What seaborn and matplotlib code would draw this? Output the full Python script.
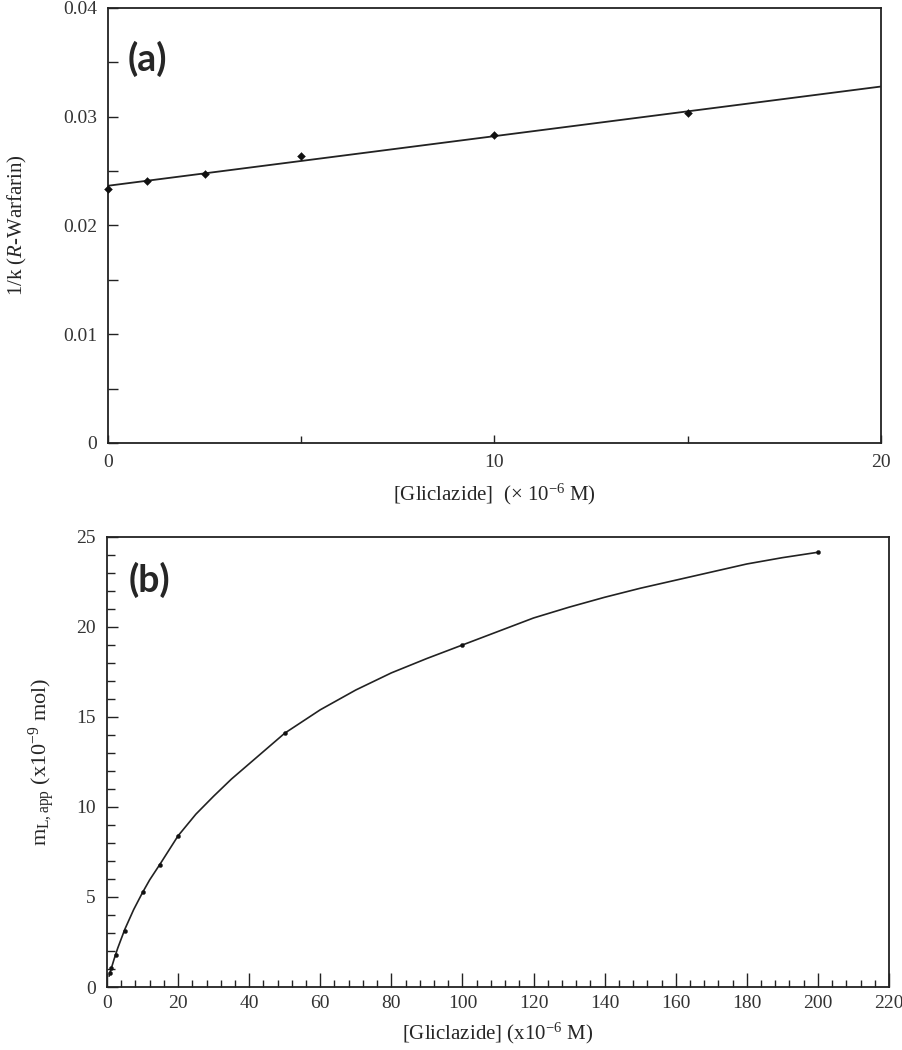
import matplotlib
matplotlib.use("Agg")
import matplotlib.pyplot as plt
import seaborn as sns
import numpy as np
import pandas as pd
from matplotlib.ticker import MultipleLocator, FuncFormatter

# ---- Data (a) ----
conc_a = [0, 1, 2.5, 5, 10, 15]
invk_a = [0.0234, 0.0241, 0.0247, 0.0264, 0.0283, 0.0303]

# ---- Data (b) ----
conc_b = [0.8, 1.2, 2.5, 5, 10, 15, 20, 50, 100, 200]
mlapp_b = [0.75, 1.05, 1.8, 3.1, 5.25, 6.8, 8.4, 14.1, 19.0, 24.15]

curve_x = [0.6, 1, 2, 3, 5, 7.5, 10, 12, 15, 20, 25, 30, 35, 40, 45, 50, 60, 70,
           80, 90, 100, 110, 120, 130, 140, 150, 160, 170, 180, 190, 200]
curve_y = [0.6, 0.9, 1.55, 2.15, 3.2, 4.3, 5.25, 5.95, 6.85, 8.4, 9.6, 10.6, 11.55,
           12.4, 13.25, 14.1, 15.4, 16.5, 17.45, 18.25, 19.0, 19.75, 20.5, 21.1,
           21.65, 22.15, 22.6, 23.05, 23.5, 23.85, 24.15]

sns.set_style("ticks")
plt.rcParams["font.family"] = ["Liberation Serif", "DejaVu Serif"]
plt.rcParams["mathtext.fontset"] = "custom"
plt.rcParams["mathtext.rm"] = "Liberation Serif"
plt.rcParams["mathtext.it"] = "Liberation Serif:italic"

fig = plt.figure(figsize=(9.03, 10.5), dpi=100)
ax1 = fig.add_axes([0.1196, 0.5781, 0.8560, 0.4143])
ax2 = fig.add_axes([0.1185, 0.0600, 0.8660, 0.4286])

df_a = pd.DataFrame({"x": conc_a, "y": invk_a})
ax1.set_xlim(0, 20)
ax1.set_ylim(0, 0.04)
sns.regplot(data=df_a, x="x", y="y", ax=ax1, scatter=False, ci=None,
            truncate=False, line_kws=dict(color="#222222", lw=1.3))
sns.scatterplot(data=df_a, x="x", y="y", ax=ax1, marker="D", s=16,
                color="#111111", edgecolor="#111111", zorder=5, clip_on=False)
ax1.set_xlim(0, 20)
ax1.set_ylim(0, 0.04)
ax1.xaxis.set_major_locator(MultipleLocator(10))
ax1.xaxis.set_minor_locator(MultipleLocator(5))
ax1.yaxis.set_major_locator(MultipleLocator(0.01))
ax1.yaxis.set_minor_locator(MultipleLocator(0.005))
ax1.yaxis.set_major_formatter(FuncFormatter(
    lambda v, p: "0" if abs(v) < 1e-12 else f"{v:.2f}"))
ax1.set_xlabel(r"[Gliclazide]  (× 10$^{-6}$ M)", fontsize=15, labelpad=8)
ax1.set_ylabel(r"1/k ($\mathit{R}$-Warfarin)", fontsize=15, labelpad=24)
ax1.text(0.025, 0.883, "(a)", transform=ax1.transAxes, fontsize=27,
         fontweight="bold", family=["Lato", "DejaVu Sans"], va="center", ha="left")

df_c = pd.DataFrame({"x": curve_x, "y": curve_y})
df_b = pd.DataFrame({"x": conc_b, "y": mlapp_b})
sns.lineplot(data=df_c, x="x", y="y", ax=ax2, color="#222222", lw=1.2)
sns.scatterplot(data=df_b, x="x", y="y", ax=ax2, marker="o", s=9,
                color="#111111", edgecolor="#111111", zorder=5)
ax2.set_xlim(0, 220)
ax2.set_ylim(0, 25)
ax2.xaxis.set_major_locator(MultipleLocator(20))
ax2.xaxis.set_minor_locator(MultipleLocator(4))
ax2.yaxis.set_major_locator(MultipleLocator(5))
ax2.yaxis.set_minor_locator(MultipleLocator(1))
ax2.set_xlabel(r"[Gliclazide] (x10$^{-6}$ M)", fontsize=15, labelpad=6)
ax2.set_ylabel(r"m$_{\mathrm{L,app}}$ (x10$^{-9}$ mol)", fontsize=16, labelpad=14)
ax2.text(0.028, 0.904, "(b)", transform=ax2.transAxes, fontsize=27,
         fontweight="bold", family=["Lato", "DejaVu Sans"], va="center", ha="left")

for ax in (ax1, ax2):
    for s in ax.spines.values():
        s.set_visible(True)
        s.set_color("#222222")
        s.set_linewidth(1.3)
    ax.tick_params(axis="both", which="both", direction="in", colors="#222222",
                   labelcolor="#333333", labelsize=14, width=1.0)
    ax.tick_params(axis="both", which="major", length=6, pad=8)
    ax.tick_params(axis="both", which="minor", length=5)
    ax.grid(False)
ax2.tick_params(axis="x", which="major", length=10, pad=6)
ax2.tick_params(axis="x", which="minor", length=5)
ax2.tick_params(axis="y", which="major", length=8)
ax2.tick_params(axis="y", which="minor", length=6)
ax1.tick_params(axis="y", which="both", length=7)

fig.savefig("out.png", dpi=100)
